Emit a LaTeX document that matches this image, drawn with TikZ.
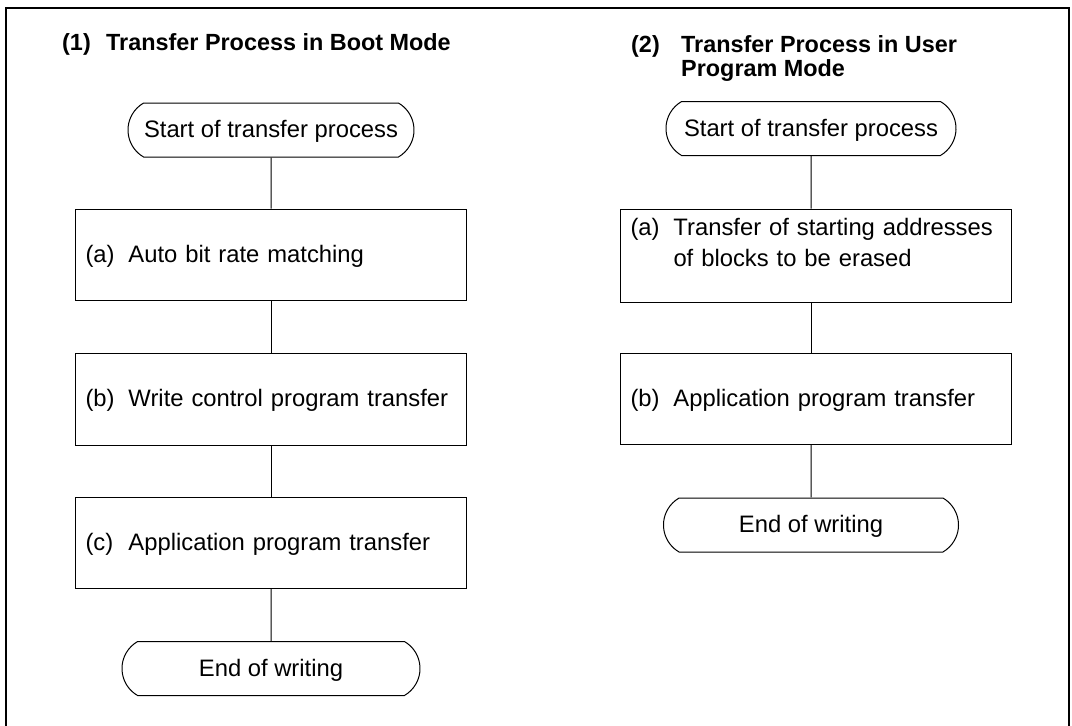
\documentclass[tikz,border=0pt]{standalone}
\usepackage{fontspec}
\setmainfont{Liberation Sans}
\usepackage{tikz}
\usetikzlibrary{positioning}
\usetikzlibrary{shapes.misc}

\newcommand{\stepitem}[3][43pt]{\noindent\begin{tabular}[t]{@{}p{#1}@{}l@{}}#2 & #3\end{tabular}}

\begin{document}
\begin{tikzpicture}[x=1pt, y=1pt, font=\fontsize{23.8}{31}\selectfont,
        terminal/.style={draw, line width=1pt, rounded rectangle, rounded rectangle arc length=120, minimum height=54pt, inner sep=0pt, text height=21pt, text depth=6pt},
        stepbox/.style={draw, line width=1pt, minimum width=391pt, minimum height=91pt, text width=371pt, inner xsep=10pt, inner ysep=0pt, align=left, text height=21pt, text depth=6pt},
        heading/.style={anchor=base west, inner sep=0pt, font=\fontsize{23.4}{23.5}\selectfont\bfseries},
        link/.style={line width=1pt}]
        \useasboundingbox (0,0) rectangle (1072,-726);
        \draw[line width=2pt] (6,-726) -- (6,-8) -- (1069,-8) -- (1069,-726);
        \node [heading] (titleL) at (62,-50) {\stepitem[44pt]{(1)}{Transfer Process in Boot Mode}};
        \node [heading] (titleR) at (631,-52) {\stepitem[50pt]{(2)}{Transfer Process in User\\ & Program Mode}};
        \node [terminal, minimum width=286pt] (startL) at (271,-130) {Start of transfer process};
        \node [stepbox] (autoL) at (271,-254.5) {\stepitem{(a)}{Auto bit rate matching}};
        \node [stepbox, minimum height=92pt] (writeL) at (271,-399) {\stepitem{(b)}{Write control program transfer}};
        \node [stepbox] (applL) at (271,-542.5) {\stepitem{(c)}{Application program transfer}};
        \node [terminal, minimum width=298pt] (endL) at (271,-668.5) {End of writing};
        \node [terminal, minimum width=290pt] (startR) at (811,-128.5) {Start of transfer process};
        \node [stepbox, minimum height=93pt, text depth=62pt] (addrR) at (816,-255.5) {\stepitem{(a)}{Transfer of starting addresses\\ & of blocks to be erased}};
        \node [stepbox] (applR) at (816,-398.5) {\stepitem{(b)}{Application program transfer}};
        \node [terminal, minimum width=295pt] (endR) at (811,-525) {End of writing};
        \draw[link] (startL) -- (autoL);
        \draw[link] (autoL) -- (writeL);
        \draw[link] (writeL) -- (applL);
        \draw[link] (applL) -- (endL);
        \draw[link] (startR) -- (startR |- addrR.north);
        \draw[link] (addrR.south -| startR) -- (applR.north -| startR);
        \draw[link] (applR.south -| endR) -- (endR);
    \end{tikzpicture}
\end{document}
